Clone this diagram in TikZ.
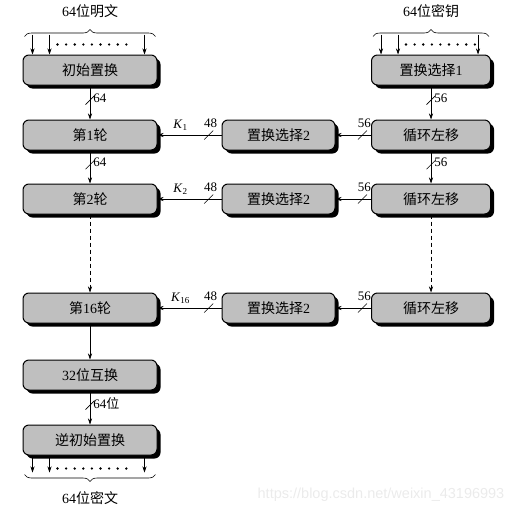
\documentclass[tikz,border=0pt]{standalone}
\usepackage{fontspec}
\setmainfont{Liberation Serif}
\newfontfamily\zhfont{Noto Sans CJK SC}
\newfontfamily\wmfont{Liberation Sans}
\newcommand{\hz}[1]{{\zhfont #1}}
\usetikzlibrary{arrows.meta,shadows,decorations.pathreplacing}

\tikzset{stage/.style={draw, line width=1pt, fill=gray!50, rounded corners=6pt, minimum height=30pt, inner sep=0pt, drop shadow={shadow xshift=3.5pt, shadow yshift=-3.5pt, fill=black, opacity=1}, font=\fontsize{14}{16}\selectfont}}
\tikzset{ leftcol/.style={minimum width=134pt}}
\tikzset{ midcol/.style={minimum width=113pt}}
\tikzset{ rightcol/.style={minimum width=119pt}}
\tikzset{ bits/.style={font=\fontsize{13}{15}\selectfont, inner sep=1pt}}
\tikzset{ pics/cut/.style={code={\draw[line width=0.6pt] (-4.5pt,-4.5pt) -- (4.5pt,4.5pt);}}}

\begin{document}
\begin{tikzpicture}[x=1pt,y=-1pt,line width=0.6pt,>={Stealth[length=6pt,width=4pt]},every node/.style={align=center}]
  \useasboundingbox (0,0) rectangle (527,514);
  % data path
  \node[stage,leftcol] (IP) at (90,70) {\hz{初始置换}};
  \node[stage,leftcol] (R1) at (90,135) {\hz{第}1\hz{轮}};
  \node[stage,leftcol] (R2) at (90,199) {\hz{第}2\hz{轮}};
  \node[stage,leftcol] (R16) at (90,308) {\hz{第}16\hz{轮}};
  \node[stage,leftcol] (Swap) at (90,375) {32\hz{位互换}};
  \node[stage,leftcol] (FP) at (90,440) {\hz{逆初始置换}};

  % key schedule
  \node[stage,rightcol] (PCone) at (431,70) {\hz{置换选择}1};
  \node[stage,rightcol] (LS1) at (431,135) {\hz{循环左移}};
  \node[stage,rightcol] (LS2) at (431,199) {\hz{循环左移}};
  \node[stage,rightcol] (LS16) at (431,308) {\hz{循环左移}};
  \node[stage,midcol] (PCtwoA) at (278.5,135) {\hz{置换选择}2};
  \node[stage,midcol] (PCtwoB) at (278.5,199) {\hz{置换选择}2};
  \node[stage,midcol] (PCtwoC) at (278.5,308) {\hz{置换选择}2};

  % input and output bits
  \foreach \blk in {IP, PCone} {
    \draw[->] ([xshift=10pt,yshift=20pt]\blk.north west) -- ([xshift=10pt]\blk.north west);
    \draw[->] ([xshift=27pt,yshift=20pt]\blk.north west) -- ([xshift=27pt]\blk.north west);
    \draw[->] ([xshift=-13pt,yshift=20pt]\blk.north east) -- ([xshift=-13pt]\blk.north east);
    \foreach \i in {0,...,8}
      \fill ([xshift={35pt+\i*8.6pt},yshift=10pt]\blk.north west) circle (1.3pt);
  }
  \draw[decorate,decoration={brace,amplitude=7pt}] ([xshift=2pt,yshift=18pt]IP.north west) -- ([xshift=-2pt,yshift=18pt]IP.north east)
    node[midway,above=15pt,font=\fontsize{14}{16}\selectfont] {64\hz{位明文}};
  \draw[decorate,decoration={brace,amplitude=7pt}] ([xshift=2pt,yshift=18pt]PCone.north west) -- ([xshift=-2pt,yshift=18pt]PCone.north east)
    node[midway,above=15pt,font=\fontsize{14}{16}\selectfont] {64\hz{位密钥}};

  \draw[->] ([xshift=10pt]FP.south west) -- ([xshift=10pt,yshift=-17pt]FP.south west);
  \draw[->] ([xshift=27pt]FP.south west) -- ([xshift=27pt,yshift=-17pt]FP.south west);
  \draw[->] ([xshift=-13pt]FP.south east) -- ([xshift=-13pt,yshift=-17pt]FP.south east);
  \foreach \i in {0,...,8}
    \fill ([xshift={35pt+\i*8.6pt},yshift=-13pt]FP.south west) circle (1.3pt);
  \draw[decorate,decoration={brace,amplitude=7pt}] ([xshift=-2pt,yshift=-19pt]FP.south east) -- ([xshift=2pt,yshift=-19pt]FP.south west)
    node[midway,below=13pt,font=\fontsize{14}{16}\selectfont] {64\hz{位密文}};

  % vertical flow
  \draw[->] (IP) -- coordinate[pos=0.43] (cIP) (R1);
  \pic at (cIP) {cut};
  \node[bits,right=2pt,yshift=2pt] at (cIP) {64};
  \draw[->] (R1) -- coordinate[pos=0.43] (cR1) (R2);
  \pic at (cR1) {cut};
  \node[bits,right=2pt,yshift=2pt] at (cR1) {64};
  \draw[->,dash pattern=on 4pt off 3pt] (R2) -- (R16);
  \draw[->] (R16) -- (Swap);
  \draw[->] (Swap) -- coordinate[pos=0.43] (cSwap) (FP);
  \pic at (cSwap) {cut};
  \node[bits,right=2pt,yshift=2pt] at (cSwap) {64\hz{位}};

  \draw[->] (PCone) -- coordinate[pos=0.43] (cPC) (LS1);
  \pic at (cPC) {cut};
  \node[bits,right=2pt,yshift=2pt] at (cPC) {56};
  \draw[->] (LS1) -- coordinate[pos=0.43] (cLS1) (LS2);
  \pic at (cLS1) {cut};
  \node[bits,right=2pt,yshift=2pt] at (cLS1) {56};
  \draw[->,dash pattern=on 4pt off 3pt] (LS2) -- (LS16);

  % subkeys
  \foreach \ls/\pc/\rnd/\k in {LS1/PCtwoA/R1/1, LS2/PCtwoB/R2/2, LS16/PCtwoC/R16/16} {
    \draw[->] (\ls) -- coordinate[pos=0.24] (c\ls) (\pc);
    \pic at (c\ls) {cut};
    \node[bits,above=6pt,xshift=2pt] at (c\ls) {56};
    \draw[->] (\pc) -- coordinate[pos=0.2] (c\pc) node[bits,pos=0.64,above=3pt] {\textit{K}\textsubscript{\k}} (\rnd);
    \pic at (c\pc) {cut};
    \node[bits,above=6pt,xshift=2pt] at (c\pc) {48};
  }

  \node[text=black!8,font=\wmfont\fontsize{14.5}{16}\selectfont] (Mark) at (381,495) {https://blog.csdn.net/weixin\_43196993};
\end{tikzpicture}
\end{document}
